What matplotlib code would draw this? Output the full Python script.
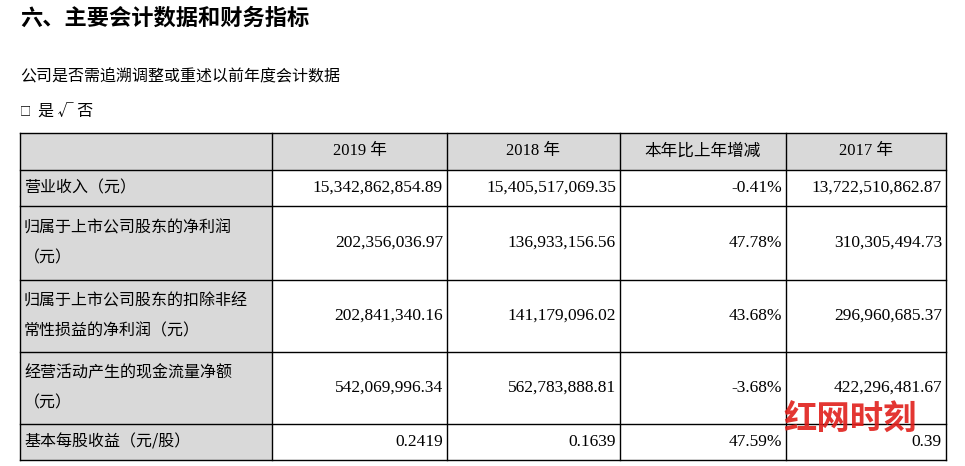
import matplotlib
matplotlib.use("Agg")
import matplotlib.pyplot as plt
from matplotlib.patches import Rectangle

title = "六、主要会计数据和财务指标"
subtitle = "公司是否需追溯调整或重述以前年度会计数据"
choice = "□ 是 √ 否"
headers = ["", "2019 年", "2018 年", "本年比上年增减", "2017 年"]
row_labels = ["营业收入（元）",
              "归属于上市公司股东的净利润\n（元）",
              "归属于上市公司股东的扣除非经\n常性损益的净利润（元）",
              "经营活动产生的现金流量净额\n（元）",
              "基本每股收益（元/股）"]
v2019 = ["15,342,862,854.89", "202,356,036.97", "202,841,340.16", "542,069,996.34", "0.2419"]
v2018 = ["15,405,517,069.35", "136,933,156.56", "141,179,096.02", "562,783,888.81", "0.1639"]
change = ["-0.41%", "47.78%", "43.68%", "-3.68%", "47.59%"]
v2017 = ["13,722,510,862.87", "310,305,494.73", "296,960,685.37", "422,296,481.67", "0.39"]

W, H = 965, 466
fig = plt.figure(figsize=(W/100, H/100), dpi=100)
ax = fig.add_axes([0, 0, 1, 1])
ax.set_xlim(0, W); ax.set_ylim(H, 0); ax.axis("off")
cjk = ["Noto Sans CJK SC", "DejaVu Sans"]
serif = ["Liberation Serif", "Noto Sans CJK SC"]

ax.text(20, 18, title, fontsize=16, fontweight="bold", family=cjk, va="center")
ax.text(20, 77, subtitle, fontsize=11.5, family=cjk, va="center")
ax.text(20, 111, "□", fontsize=8, family=cjk, va="center")
ax.text(38, 111, "是 √ 否", fontsize=11.5, family=cjk, va="center")

xs = [20, 272, 447, 620, 786, 946]
ys = [133, 170, 206, 280, 352, 424, 460]
gray = "#d9d9d9"
ax.add_patch(Rectangle((xs[0], ys[0]), xs[-1]-xs[0], ys[1]-ys[0], color=gray, lw=0))
ax.add_patch(Rectangle((xs[0], ys[0]), xs[1]-xs[0], ys[-1]-ys[0], color=gray, lw=0))
for x in xs:
    ax.plot([x, x], [ys[0], ys[-1]], color="black", lw=1)
for y in ys:
    ax.plot([xs[0], xs[-1]], [y, y], color="black", lw=1)

for j, h in enumerate(headers):
    if h:
        ax.text((xs[j]+xs[j+1])/2, (ys[0]+ys[1])/2, h, fontsize=12, family=serif, ha="center", va="center")
cols = [v2019, v2018, change, v2017]
for i, lab in enumerate(row_labels):
    yc = (ys[i+1]+ys[i+2])/2
    ax.text(xs[0]+4, yc, lab, fontsize=11.5, family=cjk, va="center", linespacing=2.0)
    for j, col in enumerate(cols):
        ax.text(xs[j+2]-4, yc, col[i], fontsize=12.5, family=serif, ha="right", va="center")

ax.text(850, 420, "红网时刻", fontsize=24, fontweight="bold", style="italic", family=cjk,
        color="#e0201c", ha="center", va="center", alpha=0.9)
fig.savefig("out.png", dpi=100)
